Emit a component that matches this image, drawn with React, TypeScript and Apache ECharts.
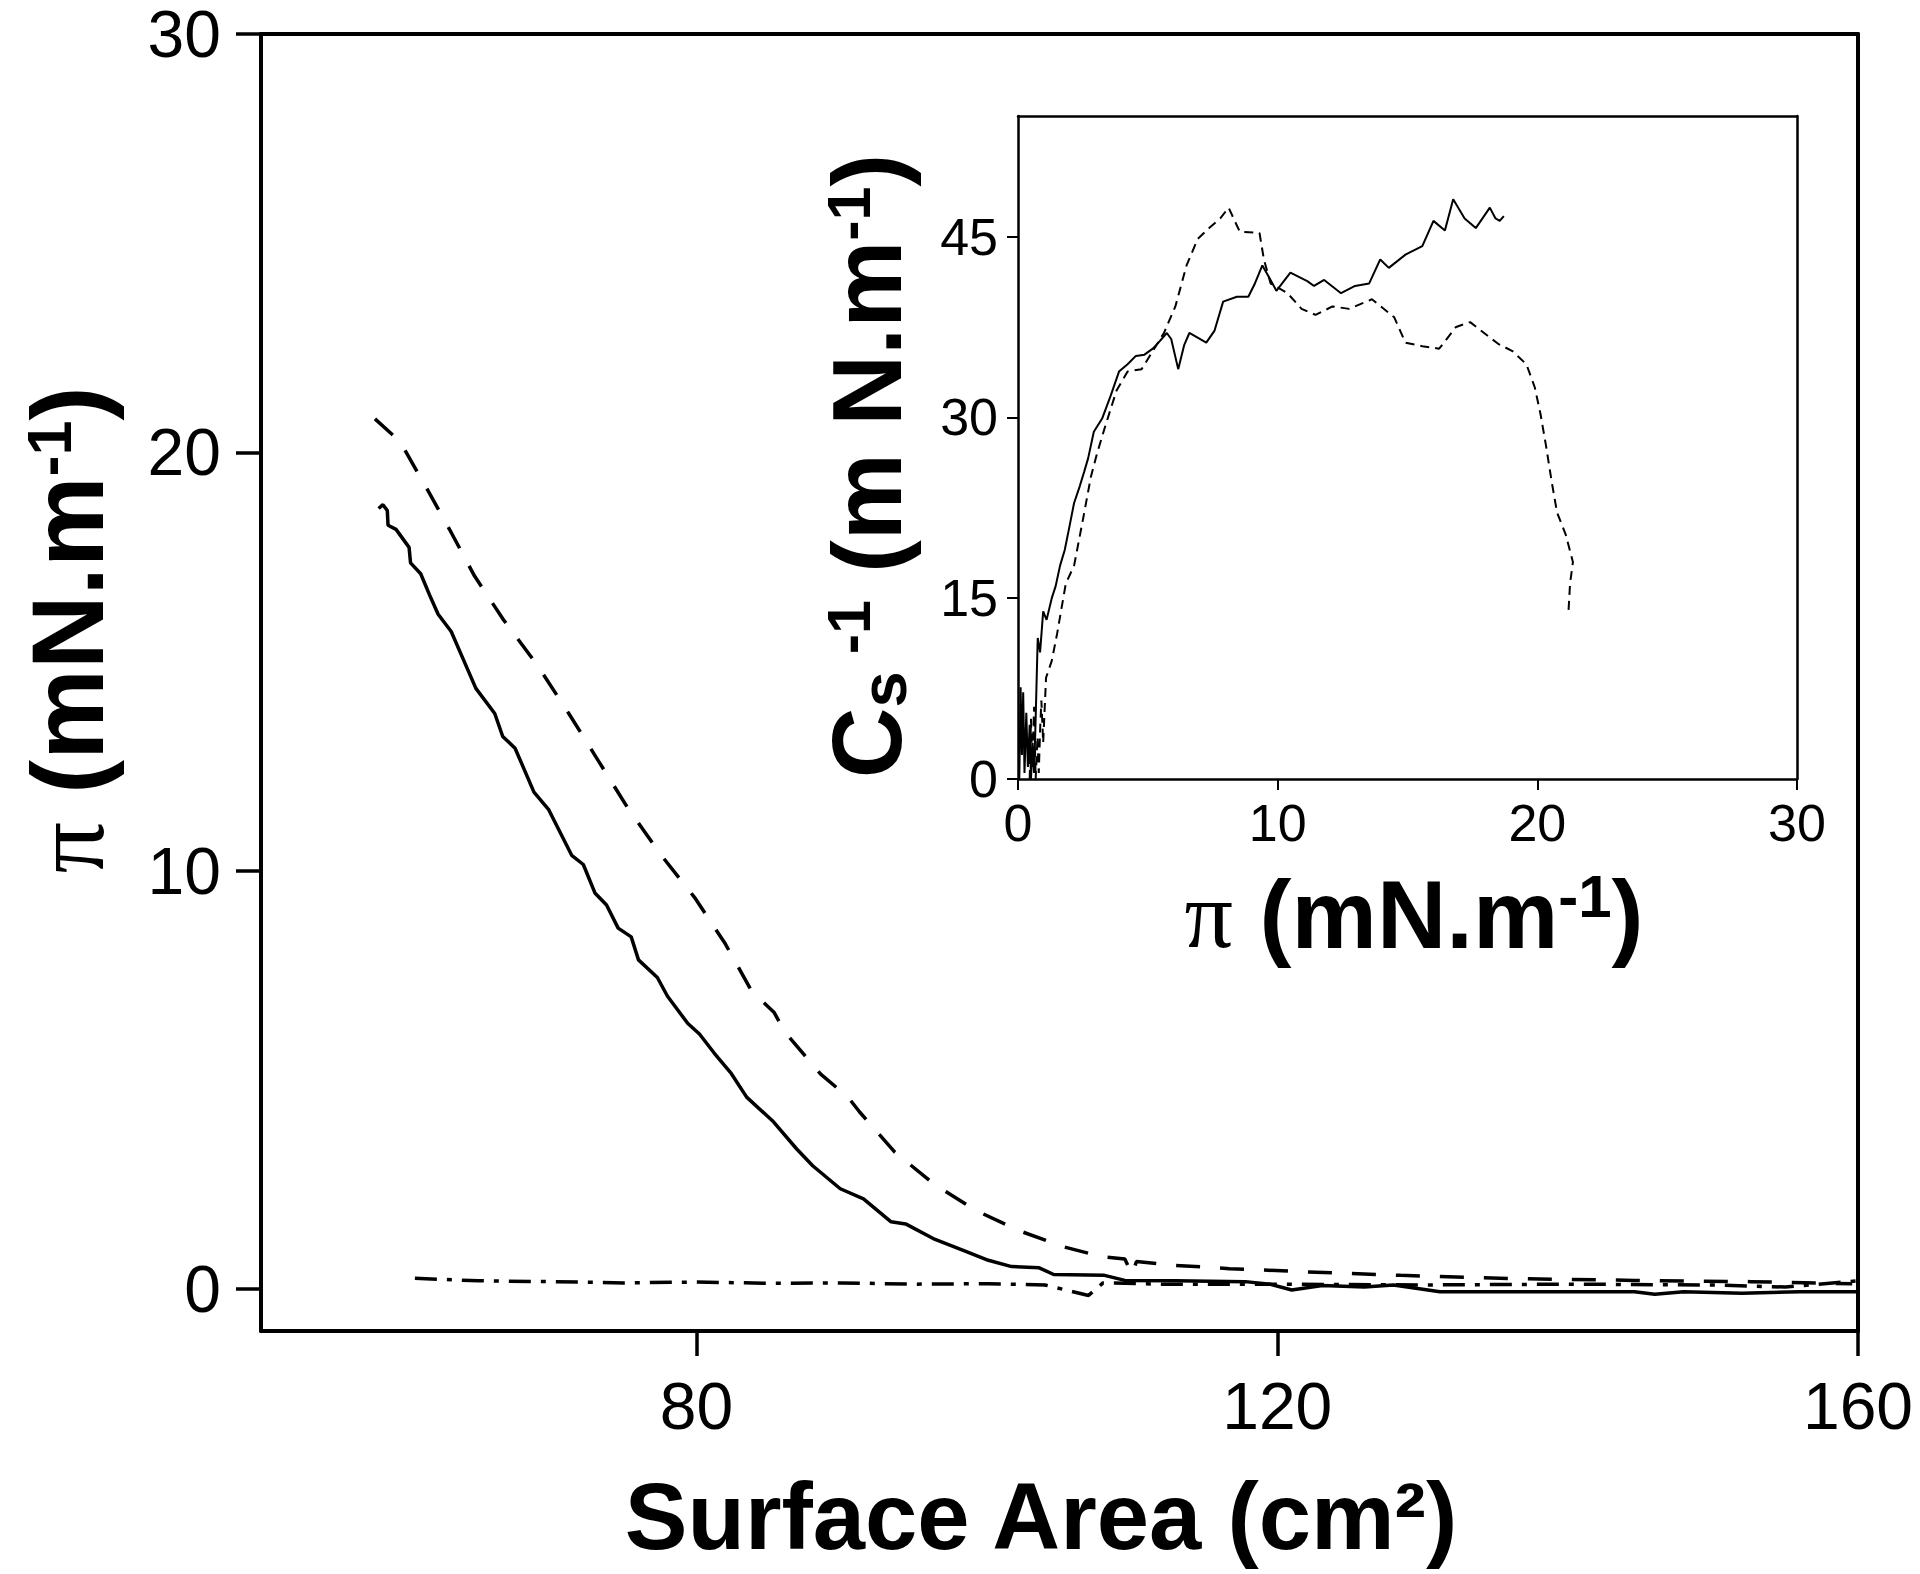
import React, { useEffect, useRef } from "react";
import * as echarts from "echarts";

// ---------- tick values ----------
const mainXTicks = [80, 120, 160];
const mainYTicks = [0, 10, 20, 30];
const insetXTicks = [0, 10, 20, 30];
const insetYTicks = [0, 15, 30, 45];

// ---------- main chart: surface pressure vs surface area ----------
const solidArea = [58.1, 58.4, 58.7, 58.75, 59.3, 60.2, 60.3, 61.0, 61.6, 62.2, 63.1, 64.0, 64.8, 66.1, 66.65, 67.5, 68.8, 69.8, 71.4, 72.2, 73.0, 73.8, 74.6, 75.5, 76.0, 77.3, 78.0, 79.4, 80.2, 81.2, 82.4, 83.45, 85.3, 86.9, 88.0, 89.9, 91.5, 93.4, 94.4, 96.3, 98.5, 100.1, 101.7, 103.6, 104.6, 108.1, 109.5, 113, 117.8, 119.5, 121.0, 123.1, 126, 128, 131.2, 140, 144.6, 146, 148, 152, 156, 160];
const solidPi = [18.66, 18.75, 18.61, 18.26, 18.16, 17.73, 17.36, 17.1, 16.6, 16.13, 15.72, 15.0, 14.36, 13.76, 13.21, 12.93, 11.88, 11.47, 10.37, 10.15, 9.47, 9.18, 8.63, 8.42, 7.87, 7.45, 7.0, 6.35, 6.1, 5.65, 5.15, 4.59, 4.0, 3.35, 2.95, 2.4, 2.16, 1.61, 1.56, 1.21, 0.91, 0.69, 0.54, 0.51, 0.35, 0.33, 0.21, 0.2, 0.18, 0.12, -0.02, 0.09, 0.05, 0.1, -0.06, -0.06, -0.06, -0.12, -0.06, -0.1, -0.06, -0.06];

const dashedArea = [57.85, 59.57, 61.4, 63.0, 64.7, 66.7, 69.06, 71.2, 73.27, 75.25, 77.48, 79.87, 81.97, 83.8, 85.33, 86.1, 88.55, 90.43, 91.22, 93.64, 96.32, 99.25, 102.2, 105.2, 107.85, 109.5, 110.0, 110.3, 112.94, 116.7, 121.5, 128.5, 136.5, 144.6, 152.6, 159.6];
const dashedPi = [20.8, 20.26, 19.15, 18.15, 17.05, 16.0, 14.9, 13.76, 12.61, 11.51, 10.41, 9.36, 8.26, 7.12, 6.62, 6.14, 5.14, 4.59, 4.24, 3.28, 2.52, 1.88, 1.4, 1.02, 0.78, 0.72, 0.35, 0.66, 0.57, 0.49, 0.42, 0.33, 0.25, 0.21, 0.18, 0.13];

const dashDotArea = [60.6, 65, 70, 75, 80, 85, 90, 95, 100, 104, 107, 108, 112, 120, 130, 140, 150, 155, 160];
const dashDotPi = [0.26, 0.2, 0.18, 0.15, 0.17, 0.14, 0.15, 0.12, 0.13, 0.1, -0.15, 0.15, 0.12, 0.12, 0.1, 0.12, 0.1, 0.05, 0.2];

// ---------- inset: compressibility modulus vs surface pressure ----------
const insetSolidPi = [0.05, 0.1, 0.15, 0.2, 0.25, 0.32, 0.38, 0.45, 0.5, 0.56, 0.62, 0.68, 0.72, 0.76, 0.85, 0.97, 1.1, 1.3, 1.45, 1.62, 1.8, 1.95, 2.16, 2.38, 2.55, 2.7, 2.92, 3.24, 3.57, 3.89, 4.22, 4.54, 4.87, 5.19, 5.41, 5.73, 5.9, 6.17, 6.4, 6.6, 7.25, 7.57, 7.9, 8.43, 8.87, 9.1, 9.41, 9.7, 9.95, 10.49, 11.14, 11.4, 11.79, 12.44, 12.98, 13.52, 13.95, 14.28, 14.92, 15.57, 16.0, 16.44, 16.76, 17.2, 17.63, 18.17, 18.39, 18.55, 18.71];
const insetSolidCs = [0, 7.6, 2, 7.2, 0.5, 5.5, 1, 4.5, 0, 3, 0.5, 5, 8.4, 11.7, 10.5, 13.9, 13.2, 15.0, 16.0, 17.7, 19, 20.6, 22.9, 24.3, 25.5, 26.6, 28.8, 29.9, 31.8, 33.8, 34.4, 35.1, 35.2, 35.7, 36.2, 37.0, 36.5, 34.0, 36, 37.0, 36.2, 37.2, 39.6, 40.0, 40.0, 41.0, 42.6, 41.5, 40.5, 42.0, 41.3, 40.9, 41.4, 40.3, 40.9, 41.1, 43.1, 42.4, 43.5, 44.2, 46.3, 45.5, 48.1, 46.5, 45.7, 47.4, 46.5, 46.3, 46.7];

const insetDashedPi = [0.45, 0.5, 0.55, 0.62, 0.68, 0.75, 0.8, 0.85, 0.9, 0.97, 1.08, 1.3, 1.51, 1.84, 2.16, 2.49, 2.81, 3.03, 3.35, 3.79, 4.22, 4.76, 5.19, 5.62, 6.06, 6.49, 6.92, 7.36, 7.79, 8.11, 8.54, 9.3, 9.47, 9.73, 10.38, 10.92, 11.46, 12.11, 12.76, 13.63, 14.49, 14.92, 15.57, 16.22, 16.87, 17.41, 17.95, 18.49, 19.04, 19.58, 19.9, 20.12, 20.33, 20.55, 20.76, 21.09, 21.37, 21.26, 21.2];
const insetDashedCs = [0, 5, 1, 6, 0, 3.5, 0.5, 4, 6.5, 3, 8.4, 9.8, 12.1, 16.2, 17.7, 21.4, 25.1, 26.9, 29.2, 32.2, 33.8, 34.0, 35.5, 37.0, 39.2, 42.6, 44.8, 45.7, 46.5, 47.4, 45.4, 45.3, 43.1, 41.1, 40.3, 39.0, 38.5, 39.2, 39.0, 39.8, 38.3, 36.2, 35.9, 35.7, 37.5, 37.9, 37.0, 36.1, 35.5, 34.4, 32.5, 30.3, 27.7, 24.7, 22.1, 20.3, 18.0, 16.2, 13.9];

const zip = (xs: number[], ys: number[]) => xs.map((x, i) => [x, ys[i]]);

const LABEL_FONT = "'Liberation Sans Narrow', 'Arial Narrow', 'Liberation Sans', Arial, sans-serif";
const SANS = "'Liberation Sans', Arial, sans-serif";
const SERIF = "'Liberation Serif', 'Times New Roman', serif";

const makeRich = (F: number) => ({
  pi: { fontFamily: SERIF, fontSize: F, lineHeight: F, fill: "#000" },
  b: { fontFamily: SANS, fontWeight: "bold", fontSize: F, lineHeight: F, fill: "#000" },
  sup: { fontFamily: SANS, fontWeight: "bold", fontSize: Math.round(F * 0.62), lineHeight: Math.round(F * 0.2), verticalAlign: "top", fill: "#000" },
  sub: { fontFamily: SANS, fontWeight: "bold", fontSize: Math.round(F * 0.66), lineHeight: Math.round(F * 0.31), verticalAlign: "bottom", fill: "#000" },
});

export default function App() {
  const ref = useRef<HTMLDivElement>(null);

  useEffect(() => {
    if (!ref.current) return;
    const chart = echarts.init(ref.current, null, { renderer: "svg" });

    const frameMain = { show: true, onZero: false, lineStyle: { color: "#000", width: 4 } };
    const frameInset = { show: true, onZero: false, lineStyle: { color: "#000", width: 2.5 } };

    chart.setOption({
      animation: false,
      backgroundColor: "#fff",
      grid: [
        { left: 261, top: 34, width: 1597, height: 1297, containLabel: false },
        { left: 1018, top: 116, width: 779, height: 663, containLabel: false },
      ],
      xAxis: [
        {
          type: "value", gridIndex: 0, min: 50, max: 160, position: "bottom",
          axisLine: frameMain,
          axisTick: { show: true, inside: false, length: 25, customValues: mainXTicks, lineStyle: { color: "#000", width: 3.5 } },
          axisLabel: { customValues: mainXTicks, color: "#000", fontSize: 66, fontFamily: LABEL_FONT, margin: 42 },
          splitLine: { show: false },
        },
        {
          type: "value", gridIndex: 0, min: 50, max: 160, position: "top",
          axisLine: frameMain, axisTick: { show: false }, axisLabel: { show: false }, splitLine: { show: false },
        },
        {
          type: "value", gridIndex: 1, min: 0, max: 30, interval: 10, position: "bottom",
          axisLine: frameInset,
          axisTick: { show: true, inside: false, length: 11, customValues: insetXTicks, lineStyle: { color: "#000", width: 2 } },
          axisLabel: { customValues: insetXTicks, color: "#000", fontSize: 52, fontFamily: LABEL_FONT, margin: 18 },
          splitLine: { show: false },
        },
        {
          type: "value", gridIndex: 1, min: 0, max: 30, position: "top",
          axisLine: frameInset, axisTick: { show: false }, axisLabel: { show: false }, splitLine: { show: false },
        },
      ],
      yAxis: [
        {
          type: "value", gridIndex: 0, min: -1, max: 30, position: "left",
          axisLine: frameMain,
          axisTick: { show: true, inside: false, length: 25, customValues: mainYTicks, lineStyle: { color: "#000", width: 3.5 } },
          axisLabel: { customValues: mainYTicks, color: "#000", fontSize: 66, fontFamily: LABEL_FONT, margin: 40 },
          splitLine: { show: false },
        },
        {
          type: "value", gridIndex: 0, min: -1, max: 30, position: "right",
          axisLine: frameMain, axisTick: { show: false }, axisLabel: { show: false }, splitLine: { show: false },
        },
        {
          type: "value", gridIndex: 1, min: 0, max: 55, position: "left",
          axisLine: frameInset,
          axisTick: { show: true, inside: false, length: 11, customValues: insetYTicks, lineStyle: { color: "#000", width: 2 } },
          axisLabel: { customValues: insetYTicks, color: "#000", fontSize: 52, fontFamily: LABEL_FONT, margin: 20 },
          splitLine: { show: false },
        },
        {
          type: "value", gridIndex: 1, min: 0, max: 55, position: "right",
          axisLine: frameInset, axisTick: { show: false }, axisLabel: { show: false }, splitLine: { show: false },
        },
      ],
      series: [
        {
          type: "line", xAxisIndex: 0, yAxisIndex: 0, data: zip(solidArea, solidPi),
          showSymbol: false, symbol: "none", lineStyle: { color: "#000", width: 3.5, type: "solid" },
        },
        {
          type: "line", xAxisIndex: 0, yAxisIndex: 0, data: zip(dashedArea, dashedPi),
          showSymbol: false, symbol: "none", lineStyle: { color: "#000", width: 3.5, type: [24, 20] },
        },
        {
          type: "line", xAxisIndex: 0, yAxisIndex: 0, data: zip(dashDotArea, dashDotPi),
          showSymbol: false, symbol: "none", lineStyle: { color: "#000", width: 3.5, type: [22, 10, 5, 10] },
        },
        {
          type: "line", xAxisIndex: 2, yAxisIndex: 2, data: zip(insetSolidPi, insetSolidCs),
          showSymbol: false, symbol: "none", lineStyle: { color: "#000", width: 2, type: "solid" },
        },
        {
          type: "line", xAxisIndex: 2, yAxisIndex: 2, data: zip(insetDashedPi, insetDashedCs),
          showSymbol: false, symbol: "none", lineStyle: { color: "#000", width: 2, type: [9, 6] },
        },
      ],
      graphic: [
        {
          type: "text", x: 1041, y: 1516,
          style: { text: "Surface Area (cm²)", fontFamily: SANS, fontWeight: "bold", fontSize: 94, fill: "#000", align: "center", verticalAlign: "middle" },
        },
        {
          type: "text", x: 68, y: 630, rotation: Math.PI / 2,
          style: { text: "{pi|π}{b| (mN.m}{sup|-1}{b|)}", rich: makeRich(102), align: "center", verticalAlign: "middle" },
        },
        {
          type: "text", x: 1414, y: 914,
          style: { text: "{pi|π}{b| (mN.m}{sup|-1}{b|)}", rich: makeRich(96), align: "center", verticalAlign: "middle" },
        },
        {
          type: "text", x: 867, y: 466, rotation: Math.PI / 2,
          style: { text: "{b|C}{sub|s}{sup| -1}{b| (m N.m}{sup|-1}{b|)}", rich: makeRich(98), align: "center", verticalAlign: "middle" },
        },
      ],
    });

    return () => chart.dispose();
  }, []);

  return (
    <div
      ref={ref}
      style={{ position: "absolute", left: 0, top: 0, width: 1920, height: 1574, background: "#fff" }}
    />
  );
}
